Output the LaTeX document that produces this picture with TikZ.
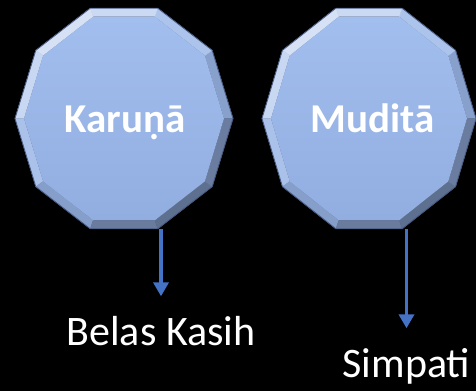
\documentclass[tikz,border=0pt]{standalone}
\usepackage{fontspec}
\setmainfont{Carlito}
\usetikzlibrary{arrows.meta}
\definecolor{bev}{RGB}{152,180,230}
\definecolor{bevtop}{RGB}{162,190,238}
\definecolor{bevbot}{RGB}{146,173,224}
\definecolor{edgec}{RGB}{70,88,128}
\definecolor{arrowblue}{RGB}{68,114,196}
\newcommand\drawbevdeca[4]{%
  \foreach \k in {0,...,9}{%
    \pgfmathsetmacro\aA{36*\k}%
    \pgfmathsetmacro\aB{36*\k+36}%
    \pgfmathsetmacro\cc{cos(36*\k+18-125)}%
    \pgfmathsetmacro\wp{100-60*max(0,\cc)}%
    \pgfmathsetmacro\bp{100-38*max(0,-\cc)}%
    \colorlet{tmpc}{bev!\bp!black}%
    \colorlet{facec}{tmpc!\wp!white}%
    \filldraw[fill=facec,draw=facec,line width=0.3pt,line join=round]
      ({#1+#3*cos(\aA)},{#2-#4*sin(\aA)}) -- ({#1+#3*cos(\aB)},{#2-#4*sin(\aB)})
      -- ({#1+(#3-9)*cos(\aB)},{#2-(#4-9)*sin(\aB)}) -- ({#1+(#3-9)*cos(\aA)},{#2-(#4-9)*sin(\aA)}) -- cycle;
  }%
  \shade[top color=bevtop,bottom color=bevbot]
    ({#1+(#3-9)},{#2}) \foreach \a in {36,72,...,324}{ -- ({#1+(#3-9)*cos(\a)},{#2-(#4-9)*sin(\a)}) } -- cycle;
  \draw[edgec,line width=0.8pt,line join=round]
    ({#1+#3},{#2}) \foreach \a in {36,72,...,324}{ -- ({#1+#3*cos(\a)},{#2-#4*sin(\a)}) } -- cycle;
}
\tikzset{
  polyarea/.style={draw=none,inner sep=0pt,minimum width=#1,minimum height=220.6pt},
  titletext/.style={text=white,inner sep=0pt,anchor=base,font=\fontsize{41}{48}\selectfont\bfseries},
  lbl/.style={text=white,inner sep=0pt,anchor=base,text height=28pt,text depth=8pt,font=\fontsize{42}{48}\selectfont},
  arr/.style={arrowblue,line width=3.5pt,-{Triangle[width=15pt,length=14pt]},shorten >=20.5pt}
}
\begin{document}
\begin{tikzpicture}[x=1pt,y=-1pt]
\useasboundingbox (0,0) rectangle (476,391);
\fill[black] (0,0) rectangle (476,391);
\drawbevdeca{124}{118.5}{109}{116}
\drawbevdeca{369}{118.5}{107}{116}
\node[polyarea=218pt] (karpoly) at (124,118.5) {};
\node[polyarea=214pt] (mudpoly) at (369,118.5) {};
\node[titletext] (kar) at (125,132) {Karuṇā};
\node[titletext] (mud) at (372.5,132) {Muditā};
\node[lbl] (belas) at (161,345) {Belas Kasih};
\node[lbl] (simp) at (406.5,377) {Simpati};
\draw[arr] (karpoly.south -| belas.north) -- (belas.north);
\draw[arr] (mudpoly.south -| simp.north) -- (simp.north);
\end{tikzpicture}
\end{document}
